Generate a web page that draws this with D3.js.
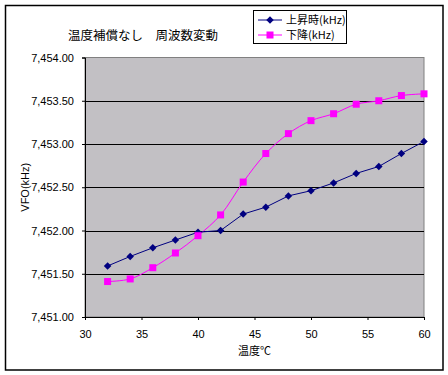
<!DOCTYPE html>
<html>
<head>
<meta charset="utf-8">
<script src="https://cdn.jsdelivr.net/npm/d3@7"></script>
<style>
  body { margin: 0; background: #fff; }
  text { font-family: "Liberation Sans", Arial, "Noto Sans CJK JP", sans-serif; }
  .jp { font-family: "Noto Sans CJK JP", sans-serif; }
</style>
</head>
<body>
<div id="chart"></div>
<script>
// temperature (deg C)
var temps = [32, 34, 36, 38, 40, 42, 44, 46, 48, 50, 52, 54, 56, 58, 60];
// rising (kHz)
var rising = [7451.59, 7451.70, 7451.80, 7451.89, 7451.98, 7452.00, 7452.19, 7452.27,
              7452.40, 7452.46, 7452.55, 7452.66, 7452.74, 7452.89, 7453.03];
// falling (kHz)
var falling = [7451.41, 7451.44, 7451.57, 7451.74, 7451.94, 7452.18, 7452.56, 7452.89,
               7453.12, 7453.27, 7453.35, 7453.46, 7453.50, 7453.56, 7453.58];
var xTicks = [30, 35, 40, 45, 50, 55, 60];
var yTicks = [7451, 7451.5, 7452, 7452.5, 7453, 7453.5, 7454];
var seriesNames = ['上昇時(kHz)', '下降(kHz)'];
var title = '温度補償なし\u3000周波数変動';

var width = 448, height = 375;
var plotLeft = 85, plotRight = 424, plotTop = 57.5, plotBottom = 317;

var svg = d3.select('#chart').append('svg')
  .attr('width', width)
  .attr('height', height);

// chart frame
svg.append('rect')
  .attr('x', 5.5).attr('y', 5.5)
  .attr('width', 437.5).attr('height', 364.5)
  .attr('fill', '#fff')
  .attr('stroke', '#000')
  .attr('stroke-width', 1.5);

var x = d3.scaleLinear().domain([30, 60]).range([plotLeft, plotRight]);
var y = d3.scaleLinear().domain([7451, 7454]).range([plotBottom, plotTop]);

// plot area
svg.append('rect')
  .attr('x', plotLeft).attr('y', plotTop)
  .attr('width', plotRight - plotLeft).attr('height', plotBottom - plotTop)
  .attr('fill', '#c2c0c4')
  .attr('stroke', '#808080')
  .attr('stroke-width', 1);

// grid lines
svg.append('g').selectAll('line')
  .data(yTicks.slice(1, -1))
  .enter().append('line')
    .attr('x1', plotLeft).attr('x2', plotRight)
    .attr('y1', function(d) { return Math.round(y(d)) + 0.5; })
    .attr('y2', function(d) { return Math.round(y(d)) + 0.5; })
    .attr('stroke', '#000')
    .attr('stroke-width', 1);

var yAxis = d3.axisLeft(y)
  .tickValues(yTicks)
  .tickSize(3)
  .tickPadding(8)
  .tickFormat(d3.format(',.2f'));

var yGuide = svg.append('g').attr('transform', 'translate(' + plotLeft + ',0)');
yAxis(yGuide);

var xAxis = d3.axisBottom(x)
  .tickValues(xTicks)
  .tickSize(3)
  .tickPadding(10)
  .tickFormat(d3.format('d'));

var xGuide = svg.append('g').attr('transform', 'translate(0,' + plotBottom + ')');
xAxis(xGuide);

svg.selectAll('.domain').attr('stroke', '#000');
svg.selectAll('.tick line').attr('stroke', '#000');
svg.selectAll('.tick text')
  .attr('fill', '#000')
  .style('font-size', '11px')
  .style('font-family', '"Liberation Sans", Arial, sans-serif');

// lines
var risingLine = d3.line()
  .x(function(d, i) { return x(temps[i]); })
  .y(function(d) { return y(d); });

var fallingLine = d3.line()
  .curve(d3.curveCatmullRom.alpha(0.5))
  .x(function(d, i) { return x(temps[i]); })
  .y(function(d) { return y(d); });

svg.append('path')
  .datum(falling)
  .attr('d', fallingLine)
  .attr('fill', 'none')
  .attr('stroke', '#ff00ff')
  .attr('stroke-width', 1);

svg.append('path')
  .datum(rising)
  .attr('d', risingLine)
  .attr('fill', 'none')
  .attr('stroke', '#000080')
  .attr('stroke-width', 1);

var diamond = d3.symbol().type(d3.symbolDiamond2).size(36);

svg.append('g').selectAll('path')
  .data(rising)
  .enter().append('path')
    .attr('d', diamond)
    .attr('transform', function(d, i) { return 'translate(' + x(temps[i]) + ',' + y(d) + ')'; })
    .attr('fill', '#000080');

svg.append('g').selectAll('rect')
  .data(falling)
  .enter().append('rect')
    .attr('x', function(d, i) { return x(temps[i]) - 3.5; })
    .attr('y', function(d) { return y(d) - 3.5; })
    .attr('width', 7).attr('height', 7)
    .attr('fill', '#ff00ff');

// titles
svg.append('text')
  .attr('class', 'jp')
  .attr('x', 68).attr('y', 40)
  .style('font-size', '12.5px')
  .text(title);

svg.append('text')
  .attr('class', 'jp')
  .attr('x', (plotLeft + plotRight) / 2).attr('y', 355)
  .attr('text-anchor', 'middle')
  .style('font-size', '11px')
  .text('温度℃');

svg.append('text')
  .attr('transform', 'translate(29,' + (plotTop + plotBottom) / 2 + ') rotate(-90)')
  .attr('text-anchor', 'middle')
  .style('font-size', '11px')
  .text('VFO(kHz)');

// legend
var legend = svg.append('g');
legend.append('rect')
  .attr('x', 253.5).attr('y', 10.5)
  .attr('width', 93).attr('height', 33)
  .attr('fill', '#fff')
  .attr('stroke', '#000');

var rows = [
  { name: seriesNames[0], color: '#000080', ly: 20 },
  { name: seriesNames[1], color: '#ff00ff', ly: 35 }
];

rows.forEach(function(r, i) {
  legend.append('line')
    .attr('x1', 258).attr('x2', 282)
    .attr('y1', r.ly).attr('y2', r.ly)
    .attr('stroke', r.color);
  if (i == 0) {
    legend.append('path')
      .attr('d', diamond)
      .attr('transform', 'translate(270,' + r.ly + ')')
      .attr('fill', r.color);
  } else {
    legend.append('rect')
      .attr('x', 266.5).attr('y', r.ly - 3.5)
      .attr('width', 7).attr('height', 7)
      .attr('fill', r.color);
  }
  legend.append('text')
    .attr('class', 'jp')
    .attr('x', 286).attr('y', r.ly + 4)
    .style('font-size', '11px')
    .text(r.name);
});
</script>
</body>
</html>
